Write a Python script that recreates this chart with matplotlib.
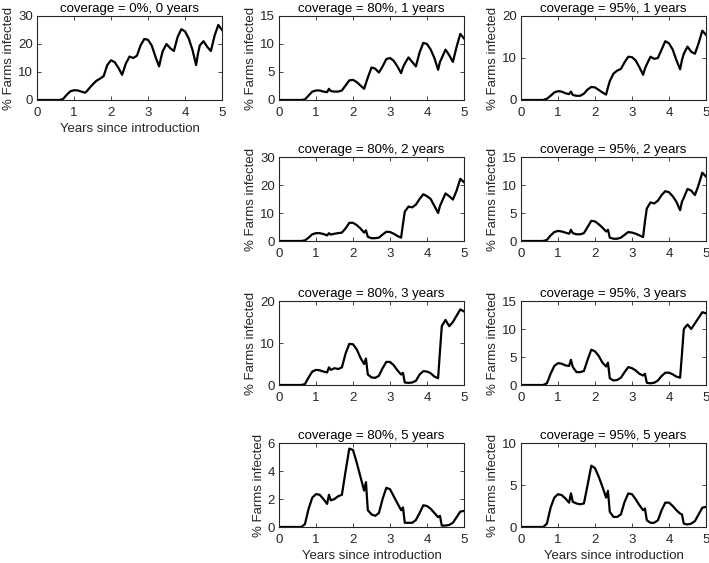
import matplotlib
matplotlib.use('Agg')
from matplotlib import pyplot as plt

# time points (years since introduction)
t = [0.0, 0.1, 0.2, 0.3, 0.4, 0.5, 0.6,
     0.7, 0.8, 0.9, 1.0, 1.1, 1.2, 1.3, 1.35,
     1.4, 1.5, 1.6, 1.7, 1.8, 1.9, 2.0, 2.1, 2.2, 2.3, 2.35,
     2.4, 2.5, 2.6, 2.7, 2.8, 2.9, 3.0, 3.1, 3.2, 3.3, 3.35,
     3.4, 3.5, 3.6, 3.7, 3.8, 3.9, 4.0, 4.1, 4.2, 4.3, 4.35,
     4.4, 4.5, 4.6, 4.7, 4.8, 4.9, 5.0]

z = [0, 0, 0, 0, 0, 0, 0]

cov0_0y = z + [0.3, 1.8, 3.1, 3.5, 3.4, 3.0, 2.6, 3.2,
               4.0, 5.5, 6.8, 7.6, 8.5, 12.5, 14.2, 13.5, 11.5, 9.0, 11.0,
               13.0, 15.5, 15.0, 15.8, 19.5, 21.8, 21.5, 19.5, 15.5, 12.0, 15.0,
               17.5, 20.0, 18.5, 17.5, 22.5, 25.3, 24.5, 22.0, 18.0, 12.5, 16.5,
               19.5, 21.0, 19.0, 17.5, 23.0, 26.8, 25.0]
cov80_1y = z + [0.1, 0.8, 1.5, 1.7, 1.7, 1.5, 1.4, 2.0,
                1.6, 1.5, 1.5, 1.7, 2.6, 3.5, 3.6, 3.2, 2.6, 2.0, 3.0,
                4.0, 5.8, 5.6, 4.9, 6.0, 7.3, 7.5, 7.0, 6.0, 4.8, 5.8,
                6.5, 7.6, 6.8, 6.0, 8.5, 10.2, 10.0, 9.0, 7.5, 5.4, 6.8,
                7.5, 9.0, 8.0, 6.8, 9.5, 11.8, 11.0]
cov95_1y = z + [0.3, 1.0, 1.8, 2.1, 2.0, 1.6, 1.4, 2.0,
                1.2, 1.0, 1.0, 1.5, 2.5, 3.1, 3.0, 2.4, 1.8, 1.3, 3.0,
                4.5, 6.3, 7.0, 7.4, 9.0, 10.3, 10.2, 9.4, 7.8, 6.0, 7.5,
                8.5, 10.3, 9.8, 10.0, 12.0, 14.0, 13.5, 12.0, 9.5, 7.3, 9.5,
                11.0, 12.7, 11.5, 11.0, 13.5, 16.5, 15.5]
cov80_2y = z + [0.2, 1.2, 2.4, 2.8, 2.8, 2.5, 2.0, 2.8,
                2.3, 2.6, 2.8, 3.0, 4.5, 6.5, 6.5, 5.7, 4.5, 3.0, 3.8,
                1.5, 1.0, 1.0, 1.2, 2.3, 3.3, 3.2, 2.6, 1.8, 1.2, 6.0,
                10.5, 12.3, 12.0, 13.0, 15.0, 16.7, 16.0, 15.0, 12.5, 10.0, 12.5,
                14.0, 17.0, 16.0, 14.8, 18.0, 22.2, 21.0]
cov95_2y = z + [0.2, 1.0, 1.6, 1.8, 1.7, 1.5, 1.3, 2.0,
                1.4, 1.2, 1.2, 1.4, 2.5, 3.6, 3.5, 3.0, 2.4, 1.7, 2.0,
                0.6, 0.4, 0.4, 0.6, 1.1, 1.6, 1.5, 1.3, 1.0, 0.7, 3.5,
                5.8, 6.9, 6.7, 7.2, 8.2, 8.9, 8.7, 8.0, 7.0, 5.5, 7.0,
                7.7, 9.3, 9.0, 8.2, 10.0, 12.2, 11.5]
cov80_3y = z + [0.2, 1.8, 3.2, 3.6, 3.5, 3.2, 3.0, 4.2,
                3.6, 4.0, 3.8, 4.2, 7.5, 9.8, 9.7, 8.5, 6.5, 5.0, 6.3,
                2.5, 1.8, 1.7, 2.2, 4.0, 5.5, 5.5, 4.7, 3.5, 2.5, 2.9,
                0.6, 0.5, 0.6, 1.0, 2.5, 3.3, 3.2, 2.8, 2.0, 1.6, 8.0,
                14.0, 15.5, 14.0, 15.0, 16.5, 18.0, 17.5]
cov95_3y = z + [0.3, 2.0, 3.4, 3.9, 3.8, 3.5, 3.4, 4.5,
                3.2, 2.3, 2.3, 2.5, 4.5, 6.3, 6.0, 5.2, 4.0, 3.3, 4.0,
                1.2, 0.8, 0.9, 1.3, 2.3, 3.2, 3.0, 2.6, 2.0, 1.7, 2.0,
                0.4, 0.3, 0.4, 0.8, 1.6, 2.2, 2.2, 1.9, 1.5, 1.3, 5.5,
                10.0, 10.8, 10.0, 11.0, 12.0, 13.0, 12.8]
cov80_5y = z + [0.2, 1.3, 2.1, 2.35, 2.3, 2.0, 1.65, 2.3,
                1.9, 2.0, 2.2, 2.3, 4.0, 5.6, 5.5, 4.6, 3.6, 2.6, 3.2,
                1.2, 0.9, 0.8, 1.0, 2.0, 2.8, 2.7, 2.2, 1.7, 1.2, 1.4,
                0.3, 0.3, 0.3, 0.5, 1.0, 1.55, 1.5, 1.3, 1.0, 0.7, 0.8,
                0.1, 0.1, 0.15, 0.3, 0.7, 1.1, 1.15]
cov95_5y = z + [0.4, 2.3, 3.5, 3.9, 3.8, 3.4, 2.9, 4.0,
                3.0, 2.8, 2.7, 2.8, 5.0, 7.3, 7.0, 6.0, 4.8, 3.5, 4.3,
                1.8, 1.2, 1.2, 1.5, 3.0, 4.0, 3.9, 3.3, 2.6, 2.0, 2.2,
                0.8, 0.5, 0.5, 0.8, 2.0, 2.9, 2.9, 2.5, 2.0, 1.6, 1.5,
                0.4, 0.3, 0.4, 0.7, 1.5, 2.3, 2.4]

# (row, col, title, data, ymax, yticks, xlabel)
panels = [
    (0, 0, 'coverage = 0%, 0 years', cov0_0y, 30, [0, 10, 20, 30], True),
    (0, 1, 'coverage = 80%, 1 years', cov80_1y, 15, [0, 5, 10, 15], False),
    (0, 2, 'coverage = 95%, 1 years', cov95_1y, 20, [0, 10, 20], False),
    (1, 1, 'coverage = 80%, 2 years', cov80_2y, 30, [0, 10, 20, 30], False),
    (1, 2, 'coverage = 95%, 2 years', cov95_2y, 15, [0, 5, 10, 15], False),
    (2, 1, 'coverage = 80%, 3 years', cov80_3y, 20, [0, 10, 20], False),
    (2, 2, 'coverage = 95%, 3 years', cov95_3y, 15, [0, 5, 10, 15], False),
    (3, 1, 'coverage = 80%, 5 years', cov80_5y, 6, [0, 2, 4, 6], True),
    (3, 2, 'coverage = 95%, 5 years', cov95_5y, 10, [0, 5, 10], True),
]

plt.rcParams['font.family'] = ['Liberation Sans', 'DejaVu Sans']
plt.rcParams['font.size'] = 9.5
txt = '#262626'

W, H = 709, 563
col_left = [37, 279, 521]
row_top = [16, 157, 301, 443]
ax_w, ax_h = 185, 84

fig = plt.figure(figsize=(W / 100, H / 100), dpi=100)

for row, col, title, vals, ymax, yt, xl in panels:
    ax = fig.add_axes([col_left[col] / W, 1 - (row_top[row] + ax_h) / H,
                       ax_w / W, ax_h / H])
    ax.plot(t, vals, color='black', linewidth=1.6)
    ax.set_xlim(0, 5)
    ax.set_ylim(0, ymax)
    ax.set_xticks([0, 1, 2, 3, 4, 5])
    ax.set_yticks(yt)
    ax.tick_params(direction='in', top=True, right=True, length=3,
                   width=0.6, colors=txt, labelsize=9.5, pad=3)
    ax.tick_params(axis='x', pad=5)
    for s in ax.spines.values():
        s.set_color(txt)
        s.set_linewidth(0.8)
    ax.set_title(title, fontsize=9.5, color='black', pad=3)
    ax.set_ylabel('% Farms infected', fontsize=9.5, color=txt, labelpad=2)
    if xl:
        ax.set_xlabel('Years since introduction', fontsize=9.5, color=txt,
                      labelpad=3)

fig.savefig('out.png', dpi=100)
